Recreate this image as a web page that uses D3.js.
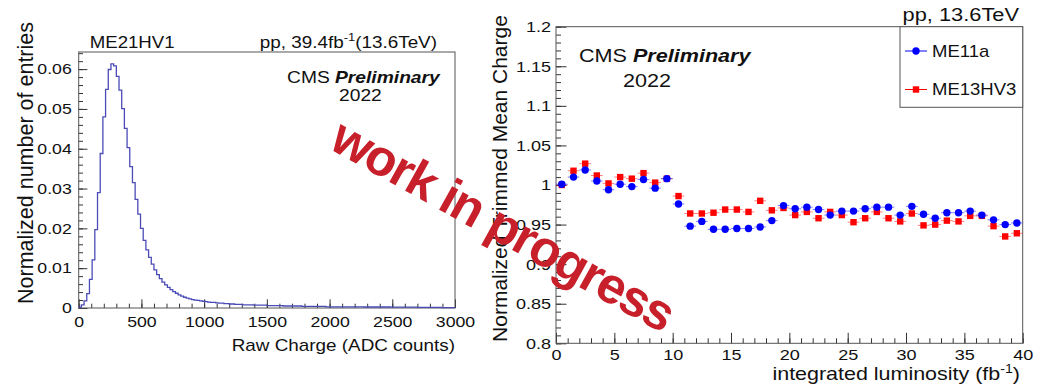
<!DOCTYPE html>
<html>
<head>
<meta charset="utf-8">
<script src="https://cdn.jsdelivr.net/npm/d3@7"></script>
<style>
  body { margin: 0; background: #fff; }
  svg text { font-family: 'Liberation Sans', Arial, Helvetica, sans-serif; fill: #111; }
</style>
</head>
<body>
<svg id="d3-cms" width="1043" height="388"></svg>
<script>

/*********************/
/*** DATA          ***/
/*********************/

// left panel: normalized raw charge histogram, 140 bins over 0..3000 ADC
let hist_range = [0, 3000];
let hist_values = [
    0.0002, 0.0008, 0.0018, 0.0036, 0.0072, 0.0121, 0.0197, 0.0290, 0.0388, 0.0480,
    0.0549, 0.0599, 0.0613, 0.0608, 0.0582, 0.0547, 0.0501, 0.0451, 0.0403, 0.0355,
    0.0315, 0.0273, 0.0236, 0.0200, 0.0170, 0.0146, 0.0127, 0.0110, 0.0096, 0.0084,
    0.0074, 0.0065, 0.0058, 0.0052, 0.0046, 0.0041, 0.0037, 0.0033, 0.0030, 0.0027,
    0.0025, 0.0023, 0.0021, 0.0020, 0.0019, 0.0018, 0.0017, 0.0016, 0.0015, 0.0014,
    0.0014, 0.0013, 0.0012, 0.0012, 0.0011, 0.0011, 0.0010, 0.0010, 0.0009, 0.0009,
    0.0009, 0.0008, 0.0008, 0.0008, 0.0008, 0.0007, 0.0007, 0.0007, 0.0007, 0.0007,
    0.0006, 0.0006, 0.0006, 0.0006, 0.0006, 0.0006, 0.0005, 0.0005, 0.0005, 0.0005,
    0.0005, 0.0005, 0.0005, 0.0004, 0.0004, 0.0004, 0.0004, 0.0004, 0.0004, 0.0004,
    0.0004, 0.0004, 0.0003, 0.0003, 0.0003, 0.0003, 0.0003, 0.0003, 0.0003, 0.0003,
    0.0003, 0.0003, 0.0003, 0.0003, 0.0003, 0.0003, 0.00025, 0.00025, 0.00025, 0.00025,
    0.00025, 0.00025, 0.00025, 0.00025, 0.00025, 0.00025, 0.0002, 0.0002, 0.0002, 0.0002,
    0.0002, 0.0002, 0.0002, 0.0002, 0.0002, 0.0002, 0.00015, 0.00015, 0.00015, 0.00015,
    0.00015, 0.00015, 0.00015, 0.00015, 0.00015, 0.0001, 0.0001, 0.0001, 0.0001, 0.0001
];
let hist_x_ticks = [0, 500, 1000, 1500, 2000, 2500, 3000];
let hist_y_ticks = [0, 0.01, 0.02, 0.03, 0.04, 0.05, 0.06];

// right panel: normalized trimmed mean charge vs integrated luminosity
let lumi = [
    0.5, 1.5, 2.5, 3.5, 4.5, 5.5, 6.5, 7.5, 8.5, 9.5,
    10.5, 11.5, 12.5, 13.5, 14.5, 15.5, 16.5, 17.5, 18.5, 19.5,
    20.5, 21.5, 22.5, 23.5, 24.5, 25.5, 26.5, 27.5, 28.5, 29.5,
    30.5, 31.5, 32.5, 33.5, 34.5, 35.5, 36.5, 37.5, 38.5, 39.5
];
let me11a = [
    1.001, 1.010, 1.019, 1.005, 0.994, 1.001, 0.998, 1.007, 0.996, 1.008,
    0.976, 0.948, 0.954, 0.944, 0.944, 0.945, 0.945, 0.947, 0.955, 0.974,
    0.970, 0.972, 0.969, 0.962, 0.967, 0.967, 0.970, 0.972, 0.972, 0.962,
    0.973, 0.963, 0.958, 0.965, 0.965, 0.967, 0.962, 0.956, 0.950, 0.952
];
let me13hv3 = [
    1.000, 1.018, 1.027, 1.012, 1.002, 1.010, 1.008, 1.015, 1.003, 1.008,
    0.986, 0.964, 0.964, 0.965, 0.969, 0.969, 0.966, 0.980, 0.968, 0.971,
    0.962, 0.966, 0.958, 0.966, 0.962, 0.953, 0.958, 0.966, 0.958, 0.954,
    0.964, 0.949, 0.950, 0.955, 0.954, 0.961, 0.961, 0.948, 0.935, 0.939
];
let lumi_x_ticks = [0, 5, 10, 15, 20, 25, 30, 35, 40];
let lumi_y_ticks = [0.8, 0.85, 0.9, 0.95, 1, 1.05, 1.1, 1.15, 1.2];
let series_names = ["ME11a", "ME13HV3"];

/*********************/
/*** INIT VARIABLE ***/
/*********************/

let svg = d3.select("#d3-cms");

const SX = 1.18;  // the picture is a little stretched sideways

let left  = {x0: 78.7, x1: 455, y0: 52, y1: 308},
    right = {x0: 556, x1: 1022.7, y0: 26.7, y1: 343.3};

let hx = d3.scaleLinear().domain(hist_range).range([left.x0, left.x1]),
    hy = d3.scaleLinear().domain([0, 0.0643]).range([left.y1, left.y0]);

let lx = d3.scaleLinear().domain([0, 40]).range([right.x0, right.x1]),
    ly = d3.scaleLinear().domain([0.8, 1.2]).range([right.y1, right.y0]);

/********************************/
/*** DECLARE HELPER FUNCTIONS ***/
/********************************/

function add_text(x, y, str, size, anchor) {
    return svg.append("text")
        .attr("transform", `translate(${x},${y}) scale(${SX},1)`)
        .attr("font-size", size)
        .attr("text-anchor", anchor || "start")
        .text(str);
}

function add_cms(x, y, size) {
    let t = svg.append("text")
        .attr("transform", `translate(${x},${y}) scale(${SX},1)`)
        .attr("font-size", size);
    t.append("tspan").text("CMS ");
    t.append("tspan").attr("font-weight", "bold").attr("font-style", "italic").text("Preliminary");
}

function style_axis(g, size, sx) {
    g.select(".domain").remove();
    g.selectAll("line").attr("stroke", "#333").attr("stroke-width", 1);
    g.selectAll("text").attr("font-size", size).attr("fill", "#111")
        .attr("transform", `scale(${sx},1)`);
}

function draw_axes(xs, ys, box, xt, yt, xfmt, yfmt, o) {
    // minor ticks
    svg.append("g")
        .attr("transform", `translate(0,${box.y1})`)
        .call(d3.axisBottom(xs).tickValues(o.xminor).tickSize(-o.minlen).tickFormat(""))
        .call((g) => style_axis(g, 0, 1));
    svg.append("g")
        .attr("transform", `translate(${box.x0},0)`)
        .call(d3.axisLeft(ys).tickValues(o.yminor).tickSize(-o.minlen).tickFormat(""))
        .call((g) => style_axis(g, 0, 1));

    // major ticks with labels
    svg.append("g")
        .attr("transform", `translate(0,${box.y1})`)
        .call(d3.axisBottom(xs).tickValues(xt).tickSize(-o.majlen).tickPadding(o.xpad).tickFormat(xfmt))
        .call((g) => style_axis(g, o.size, SX));
    svg.append("g")
        .attr("transform", `translate(${box.x0},0)`)
        .call(d3.axisLeft(ys).tickValues(yt).tickSize(-o.majlen).tickPadding(o.ypad).tickFormat(yfmt))
        .call((g) => style_axis(g, o.size, SX));

    // frame
    svg.append("rect")
        .attr("x", box.x0).attr("y", box.y0)
        .attr("width", box.x1 - box.x0).attr("height", box.y1 - box.y0)
        .attr("fill", "none").attr("stroke", "#555").attr("stroke-width", 1);
}

function render_left() {
    let n = hist_values.length,
        w = (hist_range[1] - hist_range[0]) / n;

    draw_axes(hx, hy, left, hist_x_ticks, hist_y_ticks,
        (d) => d, (d) => d === 0 ? "0" : d.toFixed(2),
        {xminor: d3.range(0, 3001, 100), yminor: d3.range(0, 0.0641, 0.002),
         minlen: 4.3, majlen: 8.7, xpad: 8, ypad: 5.9, size: 15});

    let pts = hist_values.map((v, i) => [hist_range[0] + i * w, v]);
    pts.push([hist_range[1], hist_values[n - 1]]);

    svg.append("path")
        .datum(pts)
        .attr("fill", "none")
        .attr("stroke", "#4b4bb8")
        .attr("stroke-width", 1.3)
        .attr("d", d3.line().x((d) => hx(d[0])).y((d) => hy(d[1])).curve(d3.curveStepAfter));

    add_text(89.7, 48.3, "ME21HV1", 15.8);
    let t = svg.append("text")
        .attr("transform", `translate(437,48.3) scale(${SX},1)`)
        .attr("font-size", 16)
        .attr("text-anchor", "end");
    t.append("tspan").text("pp, 39.4fb");
    t.append("tspan").attr("font-size", 11).attr("dy", -7).text("-1");
    t.append("tspan").attr("dy", 7).text("(13.6TeV)");

    add_cms(287, 83.3, 16.3);
    add_text(339, 101, "2022", 16.3);

    add_text(455, 350.7, "Raw Charge (ADC counts)", 16, "end");

    svg.append("text")
        .attr("transform", "translate(33,22) rotate(-90)")
        .attr("font-size", 21.5)
        .attr("text-anchor", "end")
        .text("Normalized number of entries");
}

function render_right() {
    draw_axes(lx, ly, right, lumi_x_ticks, lumi_y_ticks,
        (d) => d, (d) => String(+d.toFixed(2)),
        {xminor: d3.range(0, 41, 1), yminor: d3.range(0.8, 1.2001, 0.01),
         minlen: 5, majlen: 10.5, xpad: 5.8, ypad: 4.2, size: 15.3});

    let series = [
        {name: series_names[1], values: me13hv3, color: "#ff0000", shape: "square"},
        {name: series_names[0], values: me11a, color: "#0000ff", shape: "circle"}
    ];

    series.forEach((s) => {
        let g = svg.append("g");
        g.selectAll("line.err")
            .data(s.values).enter()
            .append("line")
            .attr("x1", (d, i) => lx(lumi[i] - 0.5))
            .attr("x2", (d, i) => lx(lumi[i] + 0.5))
            .attr("y1", (d) => ly(d))
            .attr("y2", (d) => ly(d))
            .attr("stroke", s.color)
            .attr("stroke-opacity", 0.5)
            .attr("stroke-width", 1);
        if (s.shape === "circle") {
            g.selectAll("circle")
                .data(s.values).enter()
                .append("circle")
                .attr("cx", (d, i) => lx(lumi[i]))
                .attr("cy", (d) => ly(d))
                .attr("r", 3.7)
                .attr("fill", s.color);
        } else {
            g.selectAll("rect")
                .data(s.values).enter()
                .append("rect")
                .attr("x", (d, i) => lx(lumi[i]) - 3.2)
                .attr("y", (d) => ly(d) - 3.2)
                .attr("width", 6.4)
                .attr("height", 6.4)
                .attr("fill", s.color);
        }
    });

    // legend
    svg.append("rect")
        .attr("x", 900).attr("y", right.y0)
        .attr("width", right.x1 - 900).attr("height", 107.3 - right.y0)
        .attr("fill", "#fff").attr("stroke", "#555").attr("stroke-width", 1);

    [{y: 51, color: "#0000ff", shape: "circle", name: series_names[0]},
     {y: 89.5, color: "#ff0000", shape: "square", name: series_names[1]}].forEach((e) => {
        svg.append("line")
            .attr("x1", 905).attr("x2", 927).attr("y1", e.y).attr("y2", e.y)
            .attr("stroke", e.color).attr("stroke-width", 1);
        if (e.shape === "circle")
            svg.append("circle").attr("cx", 916).attr("cy", e.y).attr("r", 3.7).attr("fill", e.color);
        else
            svg.append("rect").attr("x", 912.8).attr("y", e.y - 3.2).attr("width", 6.4).attr("height", 6.4).attr("fill", e.color);
        add_text(932, e.y + 5.5, e.name, 15.7);
    });

    add_text(1019, 21, "pp, 13.6TeV", 18.5, "end");
    add_cms(579, 61.7, 18.3);
    add_text(623, 87.3, "2022", 18.3);

    let t = svg.append("text")
        .attr("transform", `translate(1020,380) scale(${SX},1)`)
        .attr("font-size", 18.2)
        .attr("text-anchor", "end");
    t.append("tspan").text("integrated luminosity (fb");
    t.append("tspan").attr("font-size", 12).attr("dy", -7).text("-1");
    t.append("tspan").attr("dy", 7).text(")");

    svg.append("text")
        .attr("transform", "translate(507,178.5) rotate(-90)")
        .attr("font-size", 21)
        .attr("text-anchor", "middle")
        .text("Normalized Trimmed Mean Charge");
}

function render_watermark() {
    svg.append("text")
        .attr("transform", "translate(503,225) rotate(29)")
        .attr("font-size", 51)
        .attr("font-weight", "bold")
        .attr("letter-spacing", -1.8)
        .attr("text-anchor", "middle")
        .attr("dominant-baseline", "central")
        .style("fill", "#c8202a")
        .text("work in progress");
}

/*********************************/
/*** DRAW                      ***/
/*********************************/

render_left();
render_right();
render_watermark();

</script>
</body>
</html>
